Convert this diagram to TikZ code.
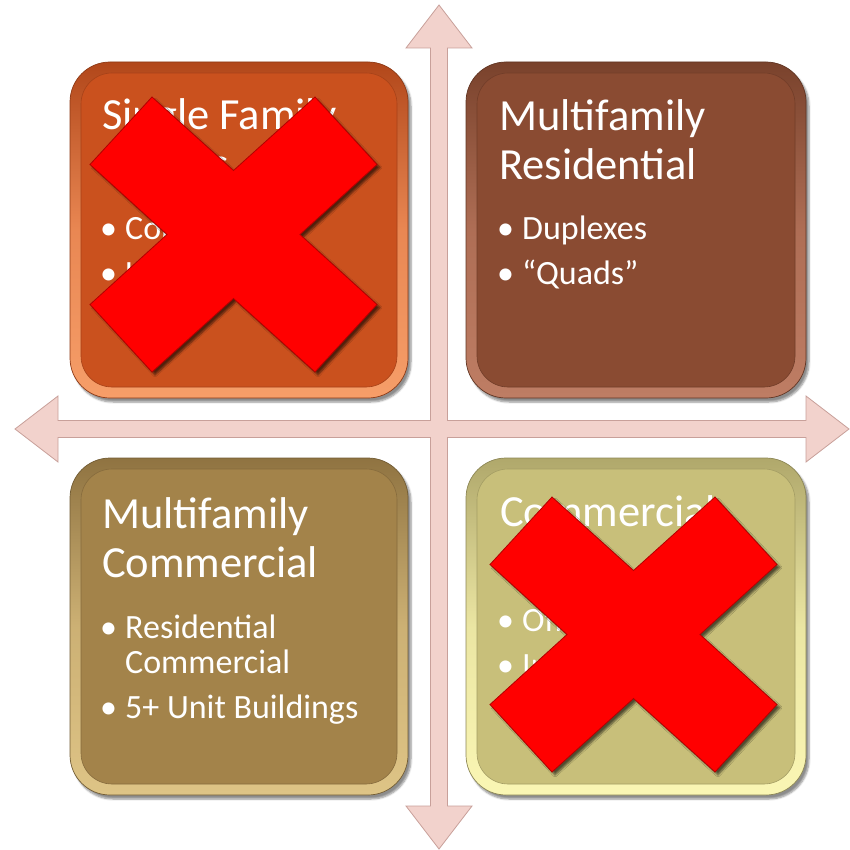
\documentclass[tikz,border=0pt]{standalone}
\usepackage{fontspec}
\setmainfont{Carlito}
\usepackage{tikz}
\usetikzlibrary{shadows.blur}

\definecolor{quadOrange}{RGB}{202,81,30}
\definecolor{rimOrange}{RGB}{246,158,105}
\definecolor{quadBrown}{RGB}{138,75,50}
\definecolor{rimBrown}{RGB}{190,125,100}
\definecolor{quadGold}{RGB}{163,131,74}
\definecolor{rimGold}{RGB}{222,196,134}
\definecolor{quadKhaki}{RGB}{200,191,122}
\definecolor{rimKhaki}{RGB}{250,246,180}
\definecolor{axisPink}{RGB}{242,210,204}
\definecolor{axisEdge}{RGB}{200,160,154}

\tikzset{
  quad/.style 2 args={rounded corners=40pt, minimum width=338pt, minimum height=336pt,
    top color=#1!88!black, bottom color=#2, middle color=#2!70!#1,
    draw=#1!70!black, line width=0.7pt,
    blur shadow={shadow xshift=3pt, shadow yshift=-4pt, shadow blur steps=6, shadow opacity=45}},
  face/.style={rounded corners=31pt, minimum width=316pt, minimum height=314pt,
    fill=#1, draw=#1!82!black, line width=0.6pt},
  head/.style={font=\fontsize{44.5}{48}\selectfont, text=white, anchor=base west, inner sep=0pt},
  item/.style={font=\fontsize{34}{36}\selectfont, text=white, anchor=base west, inner sep=0pt},
  axis/.style={fill=axisPink, draw=axisEdge, line width=0.8pt, line join=miter},
  nomark/.style={fill=red, draw=red!70!black, line width=0.8pt,
    blur shadow={shadow xshift=3pt, shadow yshift=-3pt, shadow blur steps=5, shadow opacity=60}}
}

\newcommand\bul{\makebox[25pt][l]{•}}
\newcommand\crossout[1]{%
  \path[nomark, shift={(#1)}]
    (-143.5,-70) -- (-81.5,-137.5) -- (0,-64) -- (81.5,-137.5) -- (143.5,-70) -- (66.5,0)
    -- (143.5,70) -- (81.5,137.5) -- (0,64) -- (-81.5,137.5) -- (-143.5,70) -- (-66.5,0) -- cycle;}

\begin{document}
\begin{tikzpicture}[x=1pt, y=-1pt]
\useasboundingbox (0,0) rectangle (850,850);

\path[axis] (439,5) -- (472,48) -- (447.5,48) -- (447.5,420.5) -- (806,420.5) -- (806,396)
  -- (849,429) -- (806,462) -- (806,437.5) -- (447.5,437.5) -- (447.5,806) -- (472,806)
  -- (439,849) -- (406,806) -- (430.5,806) -- (430.5,437.5) -- (58,437.5) -- (58,462)
  -- (15,429) -- (58,396) -- (58,420.5) -- (430.5,420.5) -- (430.5,48) -- (406,48) -- cycle;

\node (single) [quad={quadOrange}{rimOrange}] at (239,230) {};
\node (single-face) [face=quadOrange] at (single.center) {};
\node (multires) [quad={quadBrown}{rimBrown}, minimum width=340pt] at (636,230) {};
\node (multires-face) [face=quadBrown, minimum width=318pt] at (multires.center) {};
\node (multicom) [quad={quadGold}{rimGold}, minimum height=337pt] at (239,626.5) {};
\node (multicom-face) [face=quadGold, minimum height=315pt] at (multicom.center) {};
\node (commercial) [quad={quadKhaki}{rimKhaki}, minimum width=340pt, minimum height=337pt] at (636,626.5) {};
\node (commercial-face) [face=quadKhaki, minimum width=318pt, minimum height=315pt] at (commercial.center) {};

\node (single-t1) [head] at (102,130) {Single Family};
\node (single-t2) [head] at (102,178.5) {Homes};
\node (single-i1) [item] at (100,240) {\bul Condos};
\node (single-i2) [item] at (100,284) {\bul Houses};

\node (multires-t1) [head] at (499,131) {Multifamily};
\node (multires-t2) [head] at (499,179.5) {Residential};
\node (multires-i1) [item] at (497,240) {\bul Duplexes};
\node (multires-i2) [item] at (497,284) {\bul “Quads”};

\node (multicom-t1) [head] at (102,528) {Multifamily};
\node (multicom-t2) [head] at (102,577) {Commercial};
\node (multicom-i1) [item] at (100,638) {\bul Residential};
\node (multicom-i1b) [item] at (125,673) {Commercial};
\node (multicom-i2) [item] at (100,718) {\bul 5+ Unit Buildings};

\node (commercial-t1) [head] at (500,526) {Commercial};
\node (commercial-i1) [item] at (497,631) {\bul Office};
\node (commercial-i2) [item] at (497,676) {\bul Industrial};

\crossout{233.5,234.5}
\crossout{633.5,634.5}
\end{tikzpicture}
\end{document}
